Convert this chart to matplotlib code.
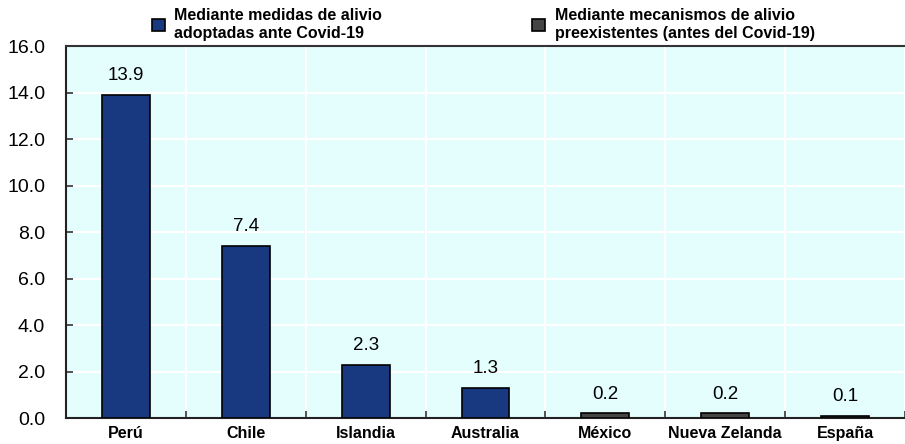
import numpy as np
import matplotlib
matplotlib.use('agg')
import matplotlib.pyplot as plt
from matplotlib.patches import Patch

countries = ['Perú', 'Chile', 'Islandia', 'Australia', 'México', 'Nueva Zelanda', 'España']
values = [13.9, 7.4, 2.3, 1.3, 0.2, 0.2, 0.1]
groups = ['new', 'new', 'new', 'new', 'old', 'old', 'old']
legend_labels = {
  'new': 'Mediante medidas de alivio\nadoptadas ante Covid-19',
  'old': 'Mediante mecanismos de alivio\npreexistentes (antes del Covid-19)',
}
colors = {'new': '#18397f', 'old': '#454545'}
yticks = [0, 2, 4, 6, 8, 10, 12, 14, 16]

plt.rcParams['font.family'] = ['Liberation Sans', 'DejaVu Sans']

fig = plt.figure(figsize=(9.05, 4.44), dpi=100)
ax = fig.add_axes([66 / 905, 26 / 444, 1 - 66 / 905, 372 / 444])
ax.set_facecolor('#e4fdfd')

x = np.arange(len(countries))
for g in ['new', 'old']:
  idx = [i for i, gg in enumerate(groups) if gg == g]
  ax.bar(x[idx], [values[i] for i in idx], width=0.4, color=colors[g],
         edgecolor='black', linewidth=1.2, zorder=3)

for xi, v in zip(x, values):
  ax.text(xi, v + 0.45, f'{v:.1f}', ha='center', va='bottom', fontsize=13.5, zorder=4)

ax.set_ylim(0, 16)
ax.set_xlim(-0.5, 6.43)
ax.set_yticks(yticks, [f'{t:.1f}' for t in yticks], fontsize=14)
ax.set_xticks(x, countries, fontsize=11.5, fontweight='bold')
ax.set_xticks(np.arange(len(countries)) + 0.5, minor=True)
ax.tick_params(axis='x', which='major', length=0, pad=6)
ax.tick_params(axis='x', which='minor', direction='in', length=5, width=1.2, color='#333333')
ax.tick_params(axis='y', direction='in', length=5, width=1.2, color='#333333', pad=15)
ax.grid(axis='y', color='white', linewidth=1.5, zorder=1)
ax.grid(axis='x', which='minor', color='white', linewidth=1.5, zorder=1)
ax.set_axisbelow(True)

ax.spines['right'].set_visible(False)
ax.spines['top'].set_color('#333333')
ax.spines['top'].set_linewidth(1.5)
for s in ['left', 'bottom']:
  ax.spines[s].set_color('#222222')
  ax.spines[s].set_linewidth(1.5)

handles = [Patch(facecolor=colors[g], edgecolor='black', linewidth=1.2, label=legend_labels[g])
           for g in ['new', 'old']]
ax.legend(handles=handles, ncol=2, loc='lower left', bbox_to_anchor=(0.095, 0.997),
          frameon=False, prop={'weight': 'bold', 'size': 11.5}, handlelength=0.8,
          handleheight=0.8, handletextpad=0.6, columnspacing=9.4, borderaxespad=0,
          labelspacing=0)

fig.savefig('out.png', dpi=100)
